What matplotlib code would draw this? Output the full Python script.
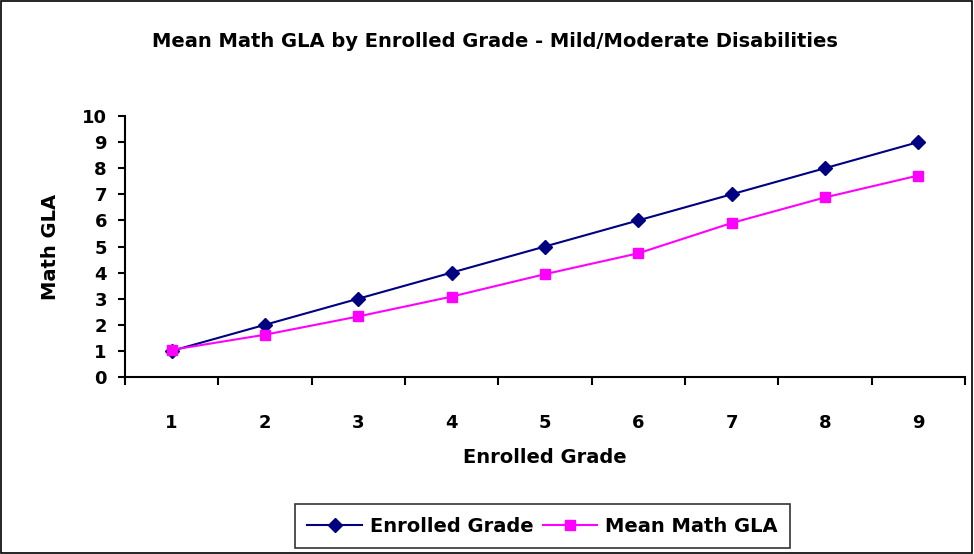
import matplotlib
matplotlib.use("Agg")
import matplotlib.pyplot as plt
from matplotlib.ticker import FixedLocator

plt.rcParams['font.family'] = ['DejaVu Sans']
plt.rcParams['font.weight'] = 'bold'

# data
grades = [1, 2, 3, 4, 5, 6, 7, 8, 9]
enrolled_grade = [1, 2, 3, 4, 5, 6, 7, 8, 9]
mean_math_gla = [1.04, 1.62, 2.32, 3.08, 3.94, 4.74, 5.9, 6.88, 7.72]

fig = plt.figure(figsize=(9.74, 5.54), dpi=100)
ax = fig.add_axes([0.1283, 0.3195, 0.8624, 0.4711])

ax.plot(grades, enrolled_grade, color='#000080', marker='D', markersize=7,
        linewidth=1.5, label='Enrolled Grade')
ax.plot(grades, mean_math_gla, color='#FF00FF', marker='s', markersize=7.5,
        linewidth=1.5, label='Mean Math GLA')

ax.set_xlim(0.5, 9.5)
ax.set_ylim(0, 10)
ax.set_yticks(range(0, 11))
ax.xaxis.set_major_locator(FixedLocator([g - 0.5 for g in grades] + [9.5]))
ax.set_xticklabels([])
ax.xaxis.set_minor_locator(FixedLocator(grades))
ax.set_xticklabels([str(g) for g in grades], minor=True)
ax.tick_params(axis='x', which='major', direction='out', length=6, width=1.5)
ax.tick_params(axis='x', which='minor', length=0, pad=27, labelsize=13)
ax.tick_params(axis='y', direction='out', length=5, width=1.5, labelsize=13, pad=8)

for s in ['top', 'right']:
    ax.spines[s].set_visible(False)
for s in ['left', 'bottom']:
    ax.spines[s].set_linewidth(1.5)

ax.set_xlabel('Enrolled Grade', fontsize=14, fontweight='bold', labelpad=11)
ax.set_ylabel('Math GLA', fontsize=14, fontweight='bold', labelpad=16)
fig.text(0.508, 0.925, 'Mean Math GLA by Enrolled Grade - Mild/Moderate Disabilities',
         ha='center', va='center', fontsize=14, fontweight='bold')

leg = fig.legend(loc='center', bbox_to_anchor=(0.557, 0.0505), ncol=2,
                 fontsize=14, frameon=True, fancybox=False, handlelength=2.8,
                 columnspacing=0.5, handletextpad=0.4, borderpad=0.65,
                 borderaxespad=0)
leg.get_frame().set_edgecolor('black')
leg.get_frame().set_linewidth(1.2)

# outer chart border
fig.patches.append(plt.Rectangle((0.001, 0.001), 0.997, 0.997, transform=fig.transFigure,
                                 fill=False, edgecolor='black', linewidth=1.2))

fig.savefig('out.png', dpi=100)
